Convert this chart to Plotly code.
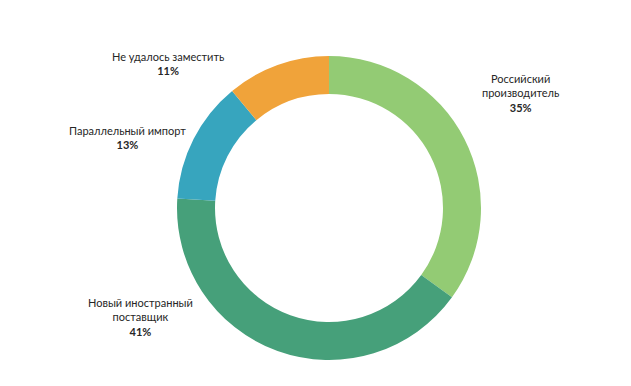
import plotly.graph_objects as go

categories = ["Российский<br>производитель", "Новый иностранный<br>поставщик", "Параллельный импорт", "Не удалось заместить"]
values = [35, 41, 13, 11]
colors = ["#93CB74", "#46A07A", "#37A5BE", "#F0A33A"]
# label anchor centres (pixels) for the outside labels
label_px = [(520, 93), (140, 317), (127, 137), (168, 63)]

W, H = 631, 386
OFF = 8  # page body margin


def px_x(x):
    return (x - OFF) / W


def px_y(y):
    return 1 - (y - OFF) / H


fig = go.Figure(go.Pie(
    labels=[c.replace("<br>", " ") for c in categories],
    values=values,
    marker=dict(colors=colors, line=dict(width=0)),
    hole=0.75,
    sort=False,
    direction="clockwise",
    rotation=0,
    textinfo="none",
    hoverinfo="label+percent",
    domain=dict(x=[px_x(177), px_x(481)], y=[px_y(361), px_y(55)]),
    showlegend=False,
))

for cat, v, (px, py) in zip(categories, values, label_px):
    fig.add_annotation(
        x=px_x(px), y=px_y(py), xref="paper", yref="paper",
        text=f"{cat}<br><b>{v}%</b>",
        showarrow=False, xanchor="center", yanchor="middle",
        font=dict(family="Lato, Open Sans, sans-serif", size=11, color="#262626"),
        align="center",
    )

fig.update_layout(
    width=W, height=H,
    margin=dict(l=0, r=0, t=0, b=0),
    paper_bgcolor="white", plot_bgcolor="white",
)

fig.write_html("out.html")
